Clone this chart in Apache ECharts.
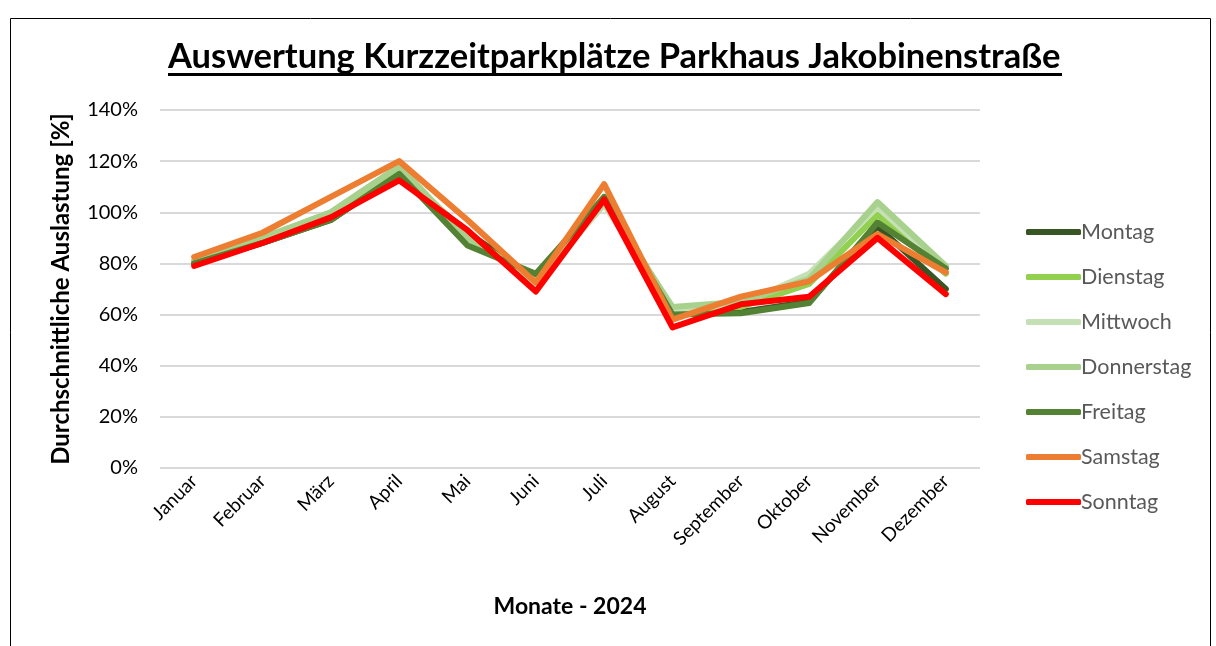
<!DOCTYPE html>
<html>
<head>
<meta charset="utf-8">
<title>Auswertung Kurzzeitparkplätze</title>
<script src="https://cdn.jsdelivr.net/npm/echarts@6/dist/echarts.min.js"></script>
<style>
  html, body { margin: 0; padding: 0; background: #fff; }
  #chart { width: 1216px; height: 646px; }
</style>
</head>
<body>
<div id="chart"></div>
<script>
// Monate
const months = ['Januar', 'Februar', 'März', 'April', 'Mai', 'Juni', 'Juli', 'August', 'September', 'Oktober', 'November', 'Dezember']

// durchschnittliche Auslastung in %, je Wochentag
const montag = [80, 88, 97, 115, 92, 74, 105, 60, 61, 65, 94.5, 70]
const dienstag = [81, 90, 99, 117, 91, 73, 106, 62, 63, 72, 99, 76]
const mittwoch = [81, 90, 100, 118, 90, 72, 103, 62, 64, 76, 102, 78]
const donnerstag = [81, 90, 100, 118, 90, 73, 104, 63, 65, 74, 104, 79]
const freitag = [80, 88, 97, 115, 87, 76, 106, 60, 60.5, 64.5, 96, 78]
const samstag = [82.5, 92, 106, 120, 97, 72.5, 111, 58, 67, 73, 91.5, 76.5]
const sonntag = [79, 88, 98, 112.5, 93, 69, 105, 55, 64, 67, 90, 68]

const yTicks = [0, 20, 40, 60, 80, 100, 120, 140]

const days = [
  { name: 'Montag', data: montag, color: '#375623' },
  { name: 'Dienstag', data: dienstag, color: '#92D050' },
  { name: 'Mittwoch', data: mittwoch, color: '#C5E0B4' },
  { name: 'Donnerstag', data: donnerstag, color: '#A9D18E' },
  { name: 'Freitag', data: freitag, color: '#548235' },
  { name: 'Samstag', data: samstag, color: '#ED7D31' },
  { name: 'Sonntag', data: sonntag, color: '#FF0000' }
]

const font = 'Lato, "Open Sans", sans-serif'

const chart = echarts.init(document.getElementById('chart'))
chart.setOption({
  animation: false,
  textStyle: { fontFamily: font },
  title: {
    text: 'Auswertung Kurzzeitparkplätze Parkhaus Jakobinenstraße',
    left: 163,
    top: 34,
    textStyle: { fontSize: 34.5, fontWeight: 'bold', color: '#000', fontFamily: font }
  },
  graphic: [
    // Rahmen
    { type: 'rect', shape: { x: 10.5, y: 18.5, width: 1200, height: 660 }, style: { fill: 'none', stroke: '#000', lineWidth: 1 }, silent: true },
    // Unterstreichung Titel
    { type: 'rect', shape: { x: 168, y: 73, width: 894, height: 3 }, style: { fill: '#000' }, silent: true }
  ],
  grid: { left: 160, right: 236, top: 110, bottom: 178 },
  legend: {
    orient: 'vertical',
    left: 1021,
    top: 216,
    itemWidth: 55,
    itemHeight: 6,
    itemGap: 23,
    icon: 'roundRect',
    textStyle: { fontSize: 21.5, color: '#595959', lineHeight: 22, padding: [0, 0, 0, -5] },
    data: days.map(d => d.name)
  },
  xAxis: {
    type: 'category',
    data: months,
    boundaryGap: true,
    name: 'Monate - 2024',
    nameLocation: 'middle',
    nameGap: 127,
    nameTextStyle: { fontSize: 23, fontWeight: 'bold', color: '#000' },
    axisLine: { show: false },
    axisTick: { show: false },
    axisLabel: { rotate: 45, fontSize: 19, color: '#000', margin: 10, interval: 0 }
  },
  yAxis: {
    type: 'value',
    min: yTicks[0],
    max: yTicks[yTicks.length - 1],
    interval: 20,
    name: 'Durchschnittliche Auslastung [%]',
    nameLocation: 'middle',
    nameGap: 87,
    nameTextStyle: { fontSize: 24, fontWeight: 'bold', color: '#000' },
    axisLine: { show: false },
    axisTick: { show: false },
    axisLabel: { formatter: '{value}%', fontSize: 20, color: '#000', margin: 22 },
    splitLine: { lineStyle: { color: '#d9d9d9', width: 2 } }
  },
  series: days.map(d => ({
    name: d.name,
    type: 'line',
    data: d.data,
    symbol: 'none',
    color: d.color,
    lineStyle: { width: 6, color: d.color, cap: 'round', join: 'round' }
  }))
})
</script>
</body>
</html>
